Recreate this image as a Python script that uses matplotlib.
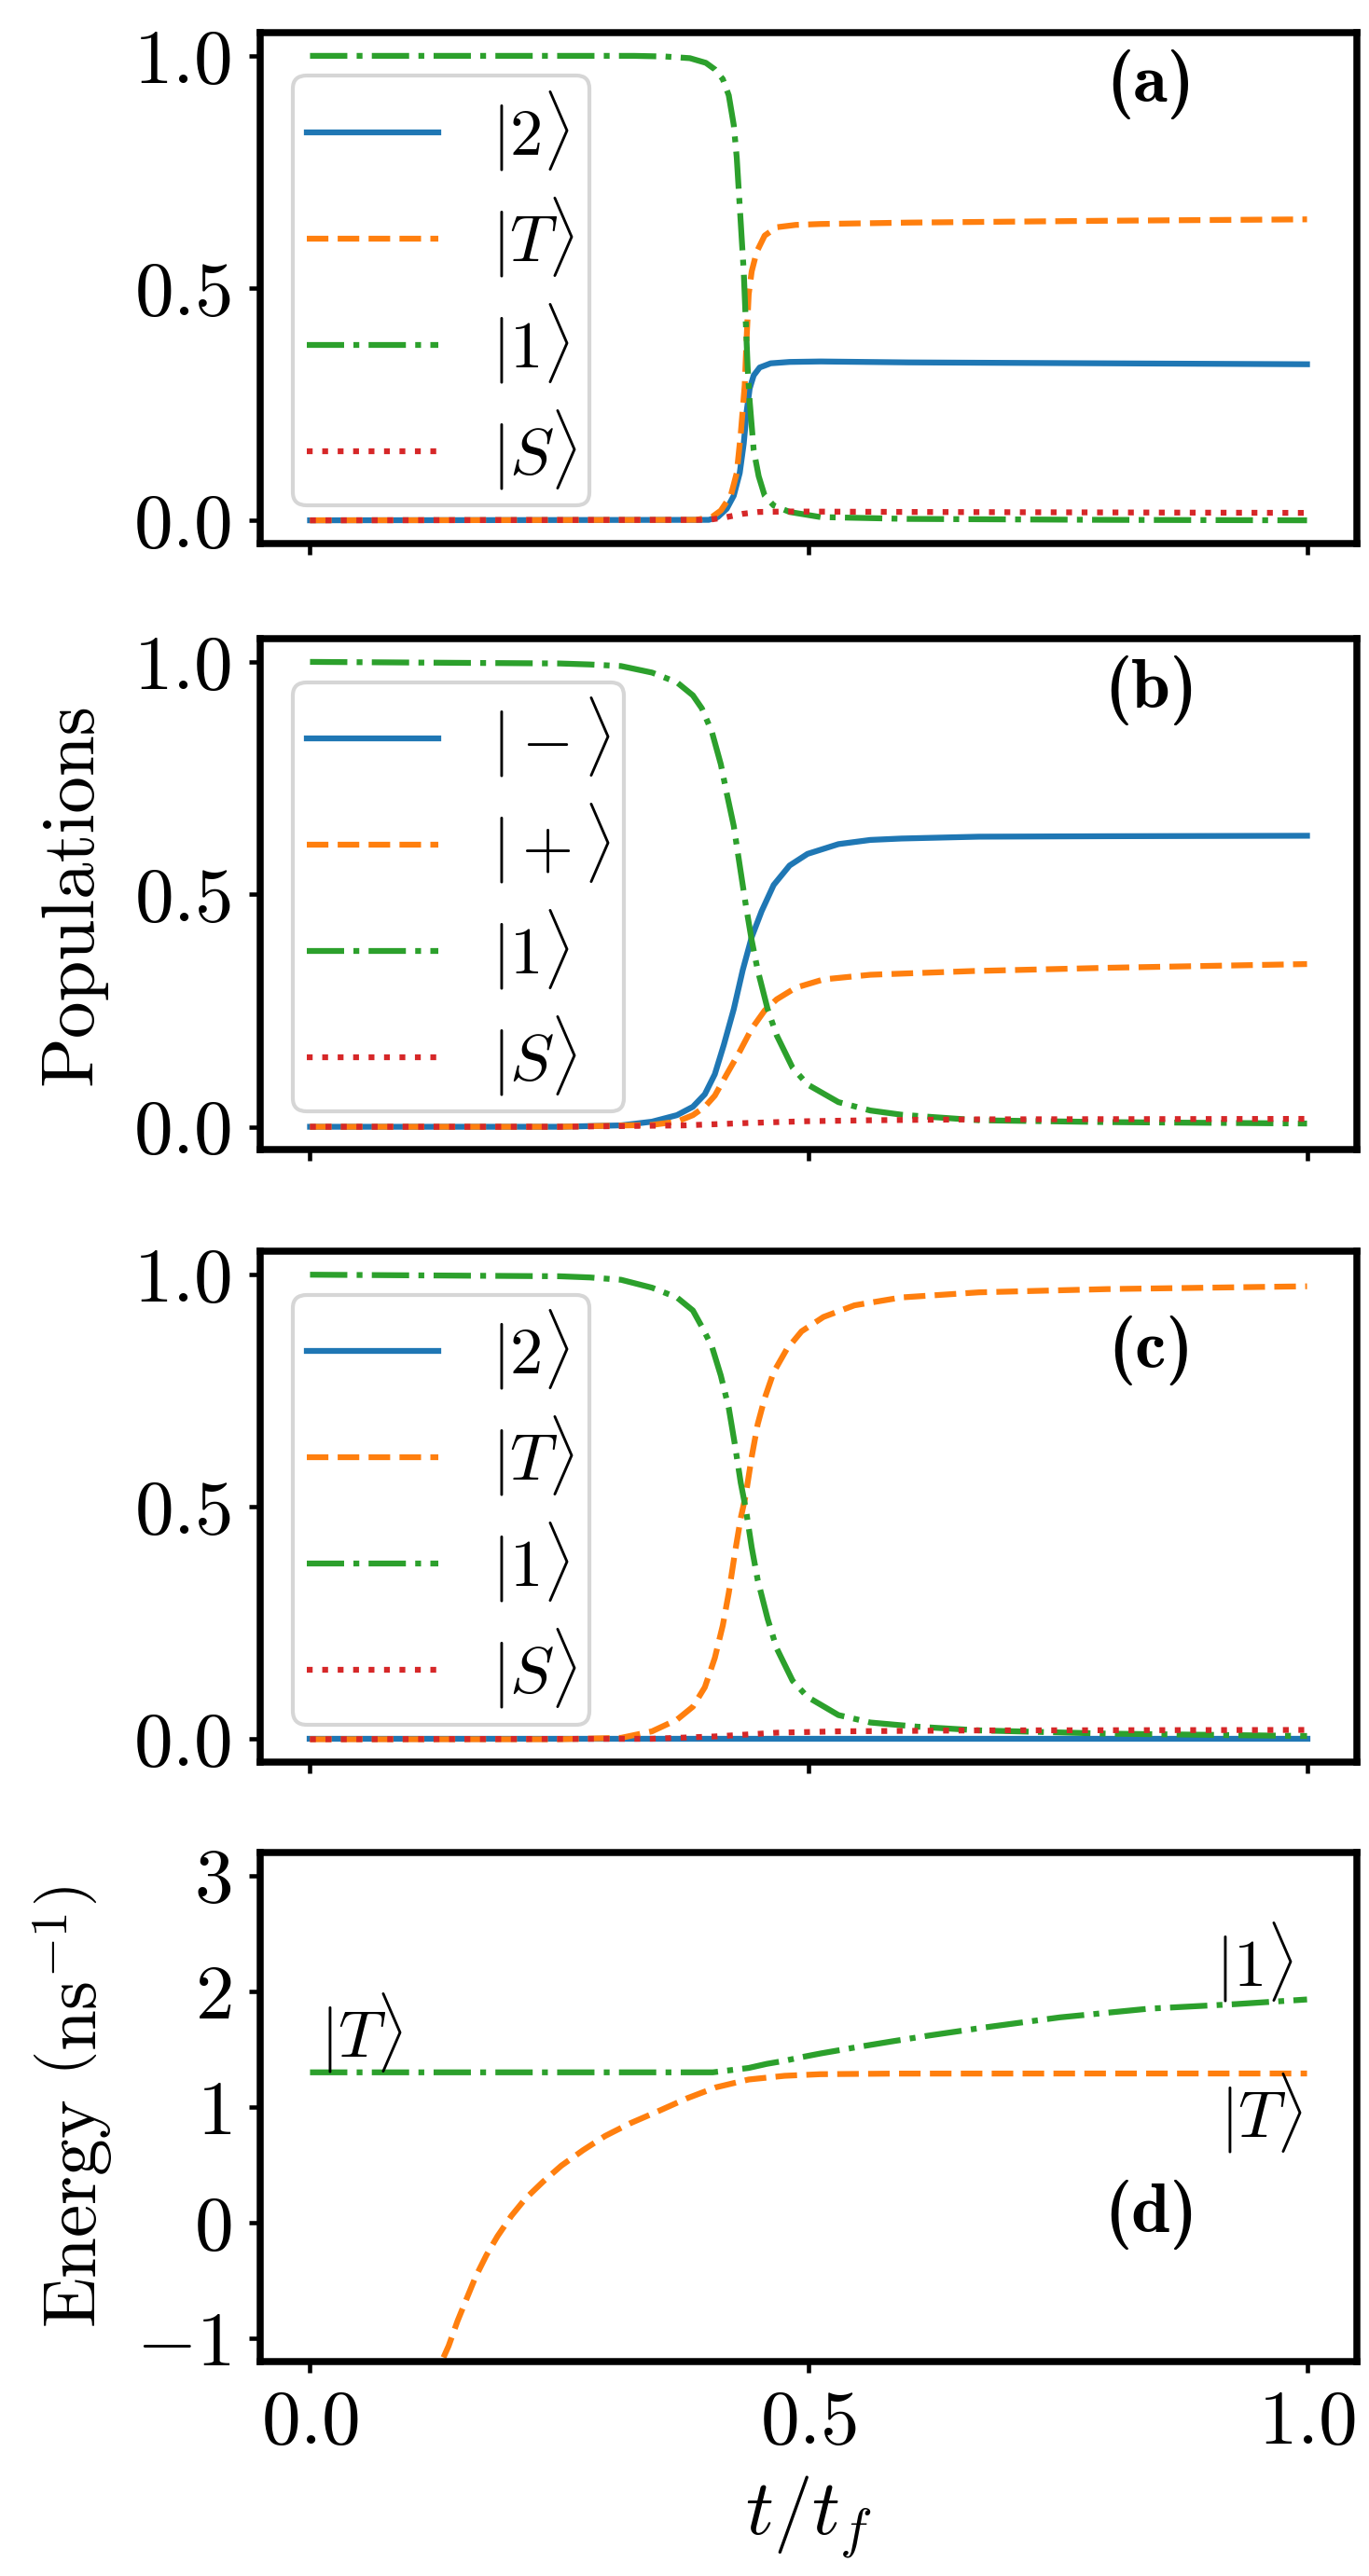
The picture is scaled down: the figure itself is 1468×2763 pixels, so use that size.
import matplotlib
matplotlib.use("Agg")
import matplotlib.pyplot as plt

plt.rcParams.update({
    "font.family": "serif",
    "font.serif": ["cmr10"],
    "mathtext.fontset": "cm",
    "axes.formatter.use_mathtext": True,
    "axes.unicode_minus": True,
})

# ---------------- data ----------------
# Panel (a)
t_a_2 = [0, 0.40, 0.409, 0.418, 0.425, 0.431, 0.435, 0.438, 0.441, 0.445, 0.451, 0.462, 0.481, 0.512, 0.60, 0.80, 1.0]
p_a_2 = [0, 0.001, 0.007, 0.025, 0.053, 0.102, 0.165, 0.235, 0.284, 0.312, 0.329, 0.338, 0.341, 0.342, 0.340, 0.338, 0.336]
t_a_T = [0, 0.387, 0.403, 0.412, 0.422, 0.428, 0.432, 0.436, 0.438, 0.440, 0.443, 0.448, 0.456, 0.468, 0.487, 0.512, 0.60, 0.80, 1.0]
p_a_T = [0, 0.001, 0.007, 0.021, 0.053, 0.102, 0.186, 0.291, 0.396, 0.487, 0.536, 0.578, 0.613, 0.631, 0.636, 0.638, 0.641, 0.645, 0.648]
t_a_1 = [0, 0.325, 0.356, 0.381, 0.397, 0.406, 0.414, 0.420, 0.425, 0.428, 0.430, 0.432, 0.435, 0.437, 0.439,
         0.441, 0.445, 0.450, 0.456, 0.465, 0.481, 0.512, 0.60, 0.80, 1.0]
p_a_1 = [1.0, 1.0, 0.9986, 0.995, 0.985, 0.971, 0.950, 0.915, 0.851, 0.781, 0.711, 0.641, 0.536, 0.431, 0.326,
         0.256, 0.151, 0.095, 0.053, 0.032, 0.018, 0.007, 0.003, 0.001, 0.0]
t_a_S = [0, 0.40, 0.418, 0.434, 0.450, 0.481, 0.60, 1.0]
p_a_S = [0, 0.001, 0.007, 0.014, 0.018, 0.019, 0.018, 0.016]

# Panel (b)
t_b_m = [0, 0.25, 0.312, 0.343, 0.368, 0.384, 0.396, 0.406, 0.415, 0.425, 0.434, 0.443, 0.453, 0.465,
         0.481, 0.499, 0.530, 0.562, 0.593, 0.671, 0.80, 1.0]
p_b_m = [0, 0.0, 0.003, 0.011, 0.025, 0.043, 0.070, 0.113, 0.176, 0.253, 0.337, 0.408, 0.464, 0.520,
         0.562, 0.587, 0.608, 0.617, 0.620, 0.624, 0.625, 0.626]
t_b_p = [0, 0.25, 0.343, 0.368, 0.384, 0.396, 0.406, 0.418, 0.431, 0.443, 0.456, 0.468, 0.487, 0.515,
         0.562, 0.665, 0.80, 1.0]
p_b_p = [0, 0.0, 0.004, 0.011, 0.025, 0.043, 0.067, 0.113, 0.162, 0.211, 0.250, 0.274, 0.299, 0.317,
         0.327, 0.335, 0.342, 0.350]
t_b_1 = [0, 0.25, 0.281, 0.312, 0.343, 0.368, 0.384, 0.393, 0.403, 0.412, 0.418, 0.425, 0.431, 0.437,
         0.443, 0.449, 0.459, 0.468, 0.484, 0.499, 0.530, 0.562, 0.593, 0.624, 0.671, 0.80, 1.0]
p_b_1 = [1.0, 0.9966, 0.9944, 0.991, 0.977, 0.956, 0.928, 0.900, 0.850, 0.780, 0.717, 0.647, 0.562, 0.478,
         0.401, 0.337, 0.253, 0.197, 0.127, 0.091, 0.053, 0.035, 0.026, 0.021, 0.014, 0.010, 0.007]
t_b_S = [0, 0.25, 0.375, 0.437, 0.499, 0.562, 0.671, 1.0]
p_b_S = [0, 0.0, 0.003, 0.008, 0.012, 0.014, 0.016, 0.017]

# Panel (c)
t_c_2 = [0, 1.0]
p_c_2 = [0.001, 0.001]
t_c_T = [0, 0.25, 0.312, 0.343, 0.368, 0.384, 0.396, 0.406, 0.414, 0.420, 0.426, 0.432, 0.437, 0.443,
         0.449, 0.456, 0.465, 0.478, 0.493, 0.515, 0.546, 0.593, 0.671, 0.80, 1.0]
p_c_T = [0, 0.0, 0.003, 0.017, 0.042, 0.070, 0.112, 0.175, 0.245, 0.315, 0.399, 0.476, 0.525, 0.608,
         0.678, 0.734, 0.790, 0.839, 0.878, 0.909, 0.934, 0.951, 0.962, 0.969, 0.975]
t_c_1 = [0, 0.25, 0.281, 0.312, 0.343, 0.368, 0.384, 0.393, 0.403, 0.412, 0.420, 0.426, 0.432, 0.437,
         0.443, 0.449, 0.459, 0.468, 0.484, 0.499, 0.530, 0.562, 0.609, 0.671, 0.80, 1.0]
p_c_1 = [1.0, 0.9966, 0.994, 0.989, 0.972, 0.951, 0.923, 0.888, 0.846, 0.783, 0.713, 0.636, 0.552, 0.497,
         0.413, 0.343, 0.259, 0.196, 0.126, 0.091, 0.052, 0.036, 0.027, 0.019, 0.012, 0.007]
t_c_S = [0, 0.343, 0.406, 0.468, 0.530, 0.671, 1.0]
p_c_S = [0, 0.001, 0.006, 0.014, 0.017, 0.019, 0.020]

# Panel (d): energies
t_d_1 = [0, 0.30, 0.404, 0.422, 0.440, 0.458, 0.476, 0.494, 0.512, 0.548, 0.584, 0.620, 0.674,
         0.752, 0.841, 0.929, 1.0]
e_d_1 = [1.30, 1.30, 1.30, 1.319, 1.338, 1.373, 1.40, 1.433, 1.463, 1.517, 1.568, 1.617, 1.685,
         1.775, 1.85, 1.89, 1.93]
t_d_T = [0.125, 0.132, 0.139, 0.148, 0.157, 0.166, 0.177, 0.188, 0.202, 0.216, 0.234, 0.252, 0.274,
         0.296, 0.321, 0.350, 0.378, 0.407, 0.440, 0.476, 0.512, 0.584, 0.80, 1.0]
e_d_T = [-1.42, -1.2, -1.065, -0.848, -0.658, -0.469, -0.279, -0.117, 0.06, 0.208, 0.357, 0.493, 0.628,
         0.750, 0.859, 0.967, 1.075, 1.170, 1.238, 1.270, 1.284, 1.289, 1.29, 1.29]

labels_a = [r"$|2\rangle$", r"$|T\rangle$", r"$|1\rangle$", r"$|S\rangle$"]
labels_b = [r"$|-\rangle$", r"$|+\rangle$", r"$|1\rangle$", r"$|S\rangle$"]
labels_c = [r"$|2\rangle$", r"$|T\rangle$", r"$|1\rangle$", r"$|S\rangle$"]
panel_tags = ["(a)", "(b)", "(c)", "(d)"]
pop_ticks = [0.0, 0.5, 1.0]
energy_ticks = [-1, 0, 1, 2, 3]
x_ticks = [0.0, 0.5, 1.0]

# ---------------- figure ----------------
W, H = 1468, 2763
fig = plt.figure(figsize=(W / 300, H / 300), dpi=300)

left = 279 / W
width = (1455 - 279) / W
tops_bottoms = [(35, 583), (685, 1233.5), (1342.3, 1890.4), (1987, 2533)]

C_BLUE, C_ORANGE, C_GREEN, C_RED = "#1f77b4", "#ff7f0e", "#2ca02c", "#d62728"
TICK_FS = 20
LEG_FS = 17
TAG_FS = 18

axes = []
for i, (tp, bt) in enumerate(tops_bottoms):
    rect = [left, 1 - bt / H, width, (bt - tp) / H]
    if i == 0:
        ax = fig.add_axes(rect)
    else:
        ax = fig.add_axes(rect, sharex=axes[0])
    axes.append(ax)

pop_sets = [
    (t_a_2, p_a_2, t_a_T, p_a_T, t_a_1, p_a_1, t_a_S, p_a_S, labels_a),
    (t_b_m, p_b_m, t_b_p, p_b_p, t_b_1, p_b_1, t_b_S, p_b_S, labels_b),
    (t_c_2, p_c_2, t_c_T, p_c_T, t_c_1, p_c_1, t_c_S, p_c_S, labels_c),
]
tag_y = [0.898, 0.899, 0.807]

for i, ax in enumerate(axes[:3]):
    t1, y1, t2, y2, t3, y3, t4, y4, labs = pop_sets[i]
    ax.plot(t1, y1, color=C_BLUE, ls="-", lw=1.5, label=labs[0])
    ax.plot(t2, y2, color=C_ORANGE, ls="--", lw=1.5, label=labs[1])
    ax.plot(t3, y3, color=C_GREEN, ls="-.", lw=1.5, label=labs[2])
    ax.plot(t4, y4, color=C_RED, ls=":", lw=1.5, label=labs[3])
    ax.set_yticks(pop_ticks)
    ax.set_ylim(-0.05, 1.05)
    ax.legend(loc="center left", bbox_to_anchor=(0, 0.495), fontsize=LEG_FS,
              labelspacing=0.33, borderpad=0.2)
    ax.text(0.812, tag_y[i], panel_tags[i], transform=ax.transAxes,
            ha="center", va="center", fontsize=TAG_FS, family="cmb10")
    ax.tick_params(labelbottom=False)

axd = axes[3]
axd.plot(t_d_T, e_d_T, color=C_ORANGE, ls="--", lw=1.5)
axd.plot(t_d_1, e_d_1, color=C_GREEN, ls="-.", lw=1.5)
axd.set_ylim(-1.2, 3.2)
axd.set_yticks(energy_ticks)
axd.text(0.052, 1.64, r"$|T\rangle$", ha="center", va="center", fontsize=LEG_FS)
axd.text(0.947, 2.25, r"$|1\rangle$", ha="center", va="center", fontsize=LEG_FS)
axd.text(0.954, 0.95, r"$|T\rangle$", ha="center", va="center", fontsize=LEG_FS)
axd.text(0.812, 0.289, panel_tags[3], transform=axd.transAxes,
         ha="center", va="center", fontsize=TAG_FS, family="cmb10")
axd.set_xticks(x_ticks)
axd.set_xlim(-0.05, 1.05)
axd.set_xlabel(r"$t/t_f$", fontsize=TICK_FS)
axd.set_ylabel(r"Energy $\left(\mathrm{ns}^{-1}\right)$", fontsize=19)
axd.yaxis.set_label_coords(-0.133, 0.5)

axes[1].set_ylabel("Populations", fontsize=19)
axes[1].yaxis.set_label_coords(-0.140, 0.5)

for ax in axes:
    for sp in ax.spines.values():
        sp.set_linewidth(1.8)
    ax.tick_params(axis="both", labelsize=TICK_FS, length=2.9, width=1.1, pad=4.5)

fig.savefig("out.png", dpi=300)
